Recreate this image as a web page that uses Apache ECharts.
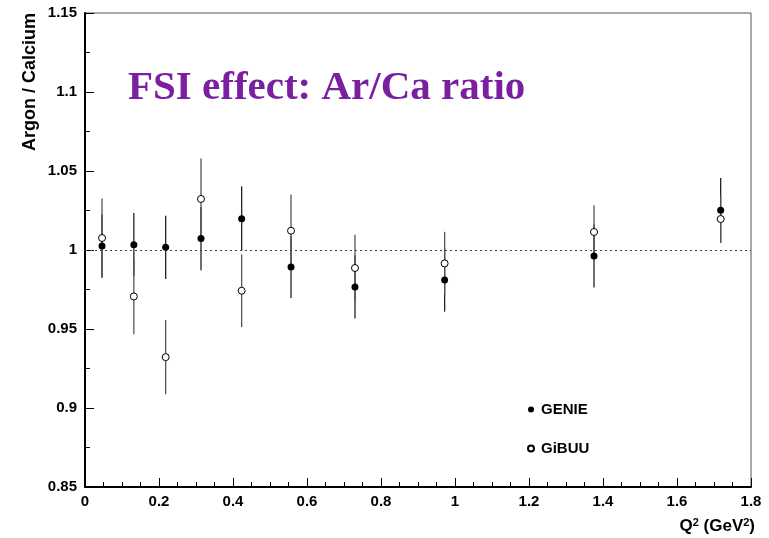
<!DOCTYPE html>
<html><head><meta charset="utf-8">
<script src="https://cdn.jsdelivr.net/npm/echarts@6/dist/echarts.min.js"></script>
<style>html,body{margin:0;padding:0;background:#fff}#c{width:769px;height:538px}</style>
</head><body><div id="c"></div>
<script>
const qsq      = [0.046, 0.132, 0.218, 0.3135, 0.4234, 0.5568, 0.7297, 0.972, 1.3757, 1.718];
const genie    = [1.0025, 1.0034, 1.0017, 1.0072, 1.0198, 0.9892, 0.9766, 0.981, 0.9962, 1.0251];
const genieErr = [0.020, 0.020, 0.020, 0.020, 0.0205, 0.0196, 0.020, 0.020, 0.020, 0.0205];
const gibuu    = [1.0076, 0.9706, 0.9322, 1.0323, 0.9742, 1.0122, 0.9886, 0.9915, 1.0114, 1.0196];
const gibuuErr = [0.025, 0.024, 0.0235, 0.0256, 0.023, 0.023, 0.021, 0.020, 0.017, 0.015];
const yTicks = [0.85, 0.9, 0.95, 1, 1.05, 1.1, 1.15];

const chart = echarts.init(document.getElementById('c'), null, {renderer: 'canvas'});
const FONT = '"Liberation Sans", Arial, Helvetica, sans-serif';

function errData(vals, errs) {
  return qsq.map((x, i) => [x, vals[i] - errs[i], vals[i] + errs[i]]);
}
function errRender(color) {
  return function (params, api) {
    const x = api.value(0);
    const p1 = api.coord([x, api.value(1)]);
    const p2 = api.coord([x, api.value(2)]);
    return {type: 'line', shape: {x1: p1[0], y1: p1[1], x2: p2[0], y2: p2[1]},
      style: {stroke: color, lineWidth: 1.3}};
  };
}

chart.setOption({
  animation: false,
  backgroundColor: '#fff',
  grid: {left: 85, right: 18, top: 13, bottom: 51, show: true, borderColor: '#555', borderWidth: 1},
  title: {
    text: 'FSI effect: Ar/Ca ratio', left: 123, top: 63,
    textStyle: {fontFamily: '"Liberation Serif", "Times New Roman", serif', fontWeight: 'bold', fontSize: 41, color: '#7a1fa0'}
  },
  legend: {
    orient: 'vertical', left: 522, top: 397, itemGap: 24, itemWidth: 6, itemHeight: 6,
    data: [{name: 'GENIE', icon: 'circle'}, {name: 'GiBUU', icon: 'circle'}],
    textStyle: {fontFamily: FONT, fontWeight: 'bold', fontSize: 15, color: '#000', padding: [0, 0, 0, 2]}
  },
  xAxis: {
    type: 'value', min: 0, max: 1.8, interval: 0.2,
    name: '{b|Q}{s|2}{b| (GeV}{s|2}{b|)}', nameLocation: 'end', nameGap: 0,
    nameTextStyle: {align: 'right', verticalAlign: 'top', padding: [30, -4, 0, 0],
      rich: {b: {fontFamily: FONT, fontWeight: 'bold', fontSize: 17, color: '#000'},
             s: {fontFamily: FONT, fontWeight: 'bold', fontSize: 11, color: '#000', verticalAlign: 'top', padding: [0, 0, 8, 0]}}},
    axisLine: {show: true, onZero: false, lineStyle: {color: '#000', width: 2}},
    axisTick: {show: true, inside: true, length: 9, lineStyle: {color: '#000', width: 1}},
    minorTick: {show: true, splitNumber: 4, length: 5, lineStyle: {color: '#000', width: 1}},
    axisLabel: {fontFamily: FONT, fontWeight: 'bold', fontSize: 15, color: '#000', margin: 7,
      formatter: v => (Math.round(v * 10) / 10).toString()},
    splitLine: {show: false}
  },
  yAxis: {
    type: 'value', min: 0.85, max: 1.15, interval: 0.05,
    name: 'Argon / Calcium', nameLocation: 'end', nameRotate: 90, nameGap: 0,
    nameTextStyle: {fontFamily: FONT, fontWeight: 'bold', fontSize: 18, color: '#000', align: 'right', verticalAlign: 'bottom', padding: [0, 0, 46, 0]},
    axisLine: {show: true, onZero: false, lineStyle: {color: '#000', width: 2}},
    axisTick: {show: true, inside: true, length: 9, lineStyle: {color: '#000', width: 1}},
    minorTick: {show: true, splitNumber: 2, length: 5, lineStyle: {color: '#000', width: 1}},
    axisLabel: {fontFamily: FONT, fontWeight: 'bold', fontSize: 15, color: '#000', margin: 8,
      formatter: v => (Math.round(v * 100) / 100).toString()},
    splitLine: {show: false}
  },
  series: [
    {type: 'line', silent: true, data: [], markLine: {symbol: 'none', silent: true, label: {show: false},
      lineStyle: {type: [2, 3], color: '#444', width: 1}, data: [{yAxis: 1}]}},
    {type: 'custom', renderItem: errRender('#222'), data: errData(genie, genieErr), z: 2, silent: true},
    {type: 'custom', renderItem: errRender('#555'), data: errData(gibuu, gibuuErr), z: 2, silent: true},
    {name: 'GENIE', type: 'scatter', symbol: 'circle', symbolSize: 7, z: 5,
      itemStyle: {color: '#000', borderColor: '#000', borderWidth: 0, opacity: 1},
      data: qsq.map((x, i) => [x, genie[i]])},
    {name: 'GiBUU', type: 'scatter', symbol: 'circle', symbolSize: 7, z: 5,
      itemStyle: {color: '#fff', borderColor: '#000', borderWidth: 1, opacity: 1},
      data: qsq.map((x, i) => [x, gibuu[i]])}
  ]
});
</script></body></html>
